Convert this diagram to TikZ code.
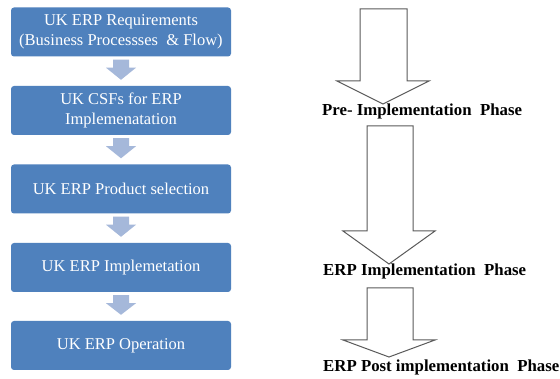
\documentclass[tikz,border=0pt]{standalone}
\usepackage{fontspec}
\setmainfont{Liberation Serif}
\newfontfamily\tnr{Liberation Serif}
\usetikzlibrary{calc}
\definecolor{boxblue}{HTML}{4F81BD}
\definecolor{arrblue}{HTML}{A5B8DA}
\definecolor{outl}{HTML}{5A5A5A}
\begin{document}
\begin{tikzpicture}[x=1pt,y=-1pt,
  stepbox/.style={fill=boxblue, rounded corners=3pt, minimum width=220pt, minimum height=49pt,
    text=white, align=center, font=\tnr\fontsize{16.5}{20}\selectfont, inner sep=0pt},
  downarr/.style={fill=arrblue},
  bigarr/.style={draw=outl, line width=1pt, fill=white, line join=miter},
  phase/.style={font=\tnr\bfseries\fontsize{16.8}{18}\selectfont, anchor=west, inner sep=0pt}]
\useasboundingbox (0,0) rectangle (560,379);
\fill[white] (0,0) rectangle (560,379);
% left flow boxes
\node[stepbox] (b1) at (121,32) {UK ERP Requirements\\(Business Processses \ \& Flow)};
\node[stepbox] (b2) at (121,110.5) {UK CSFs for ERP\\Implemenatation};
\node[stepbox] (b3) at (121,189) {UK ERP Product selection};
\node[stepbox] (b4) at (121,267.5) {UK ERP Implemetation};
\node[stepbox] (b5) at (121,345.5) {UK ERP Operation};
% small arrows between boxes
\foreach \a/\b in {b1/b2,b2/b3,b3/b4,b4/b5} {
  \fill[downarr] ($(\a.south)+(-8,3)$) -- ($(\a.south)+(8,3)$) -- ($(\a.south)+(8,11)$)
    -- ($(\a.south)+(15,11)$) -- ($(\b.north)+(0,-6)$) -- ($(\a.south)+(-15,11)$)
    -- ($(\a.south)+(-8,11)$) -- cycle;
}
% big outline arrows
\draw[bigarr] (360,9) -- (407,9) -- (407,81) -- (429,81) -- (383,104) -- (337,81) -- (360,81) -- cycle;
\draw[bigarr] (367,126) -- (413,126) -- (413,231) -- (435,231) -- (389,264) -- (343,231) -- (367,231) -- cycle;
\draw[bigarr] (367,288) -- (413,288) -- (413,340) -- (435,340) -- (389,357) -- (343,340) -- (367,340) -- cycle;
% phase labels
\node[phase] (p1) at (322,111) {Pre- Implementation \ Phase};
\node[phase] (p2) at (323,271) {ERP Implementation \ Phase};
\node[phase] (p3) at (323,367) {ERP Post implementation \ Phase};
\end{tikzpicture}
\end{document}
